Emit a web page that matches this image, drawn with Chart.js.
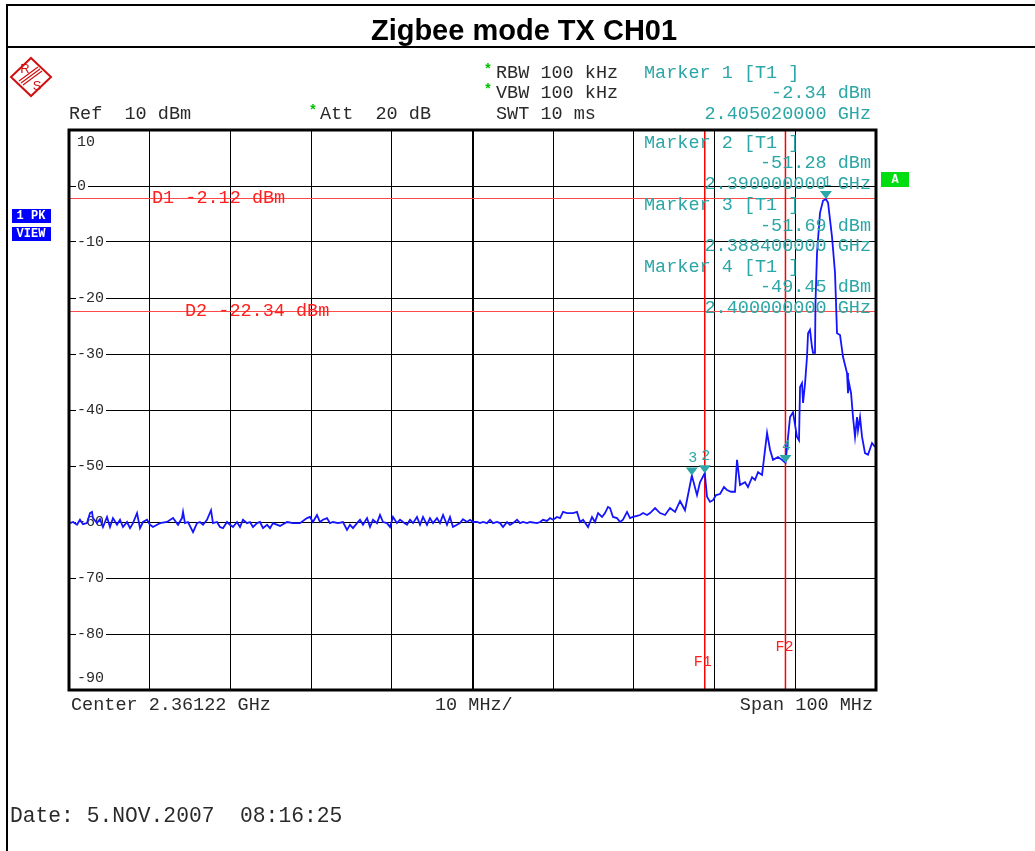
<!DOCTYPE html>
<html>
<head>
<meta charset="utf-8">
<title>Zigbee mode TX CH01</title>
<script src="https://cdn.jsdelivr.net/npm/chart.js@4.4.0/dist/chart.umd.min.js"></script>
<style>
  body { margin: 0; background: #fff; }
  canvas { display: block; }
</style>
</head>
<body>
<canvas id="spectrum" width="1035" height="851"></canvas>
<script>
// trace (MHz / dBm)
const freqMHz = [
  2311.34, 2311.72, 2312.21, 2312.58, 2312.95, 2313.45, 2313.82, 2314.07, 2314.19, 2314.69,
  2315.06, 2315.43, 2315.93, 2316.30, 2316.67, 2317.17, 2317.54, 2317.91, 2318.41, 2318.78,
  2319.15, 2319.65, 2320.02, 2320.39, 2320.89, 2321.26, 2321.63, 2322.13, 2322.50, 2323.36,
  2324.11, 2324.73, 2325.22, 2325.35, 2325.59, 2325.97, 2326.59, 2327.08, 2327.45, 2327.83,
  2328.32, 2328.82, 2329.06, 2329.56, 2329.93, 2330.30, 2330.80, 2331.17, 2331.54, 2332.04,
  2332.41, 2332.78, 2333.28, 2333.65, 2334.02, 2334.52, 2334.89, 2335.26, 2335.76, 2336.13,
  2336.50, 2337.37, 2338.24, 2338.98, 2339.84, 2340.71, 2341.08, 2341.45, 2341.95, 2342.32,
  2342.69, 2343.19, 2343.56, 2343.93, 2344.55, 2345.17, 2345.67, 2346.04, 2346.41, 2346.91,
  2347.28, 2347.65, 2348.15, 2348.52, 2348.89, 2349.39, 2349.76, 2350.13, 2350.63, 2351.00,
  2351.37, 2351.86, 2352.24, 2352.61, 2353.10, 2353.48, 2353.85, 2354.34, 2354.72, 2355.09,
  2355.58, 2355.95, 2356.33, 2356.82, 2357.19, 2357.57, 2358.06, 2358.43, 2358.80, 2359.30,
  2359.67, 2360.04, 2360.54, 2360.91, 2361.28, 2361.78, 2362.15, 2362.52, 2363.02, 2363.39,
  2363.76, 2364.26, 2364.63, 2365.00, 2365.50, 2365.87, 2366.24, 2366.74, 2367.11, 2367.48,
  2367.98, 2368.35, 2369.22, 2369.59, 2369.96, 2370.45, 2370.83, 2371.20, 2371.69, 2372.07,
  2372.44, 2372.93, 2373.31, 2373.68, 2374.17, 2374.55, 2374.92, 2375.54, 2376.03, 2376.40,
  2376.78, 2377.27, 2377.64, 2378.01, 2378.26, 2378.63, 2379.13, 2379.50, 2379.87, 2380.37,
  2380.74, 2381.11, 2381.61, 2381.98, 2382.35, 2382.85, 2383.22, 2383.84, 2384.46, 2385.08,
  2385.70, 2386.32, 2386.94, 2387.55, 2388.40, 2389.04, 2389.41, 2390.00, 2390.28, 2390.65,
  2391.02, 2391.40, 2391.89, 2392.39, 2392.76, 2393.25, 2393.75, 2394.00, 2394.37, 2394.99,
  2395.36, 2395.86, 2396.23, 2396.60, 2397.10, 2397.72, 2398.09, 2398.46, 2399.08, 2399.57,
  2400.00, 2400.57, 2400.94, 2401.43, 2401.68, 2401.81, 2402.05, 2402.18, 2402.43, 2402.67,
  2402.80, 2403.04, 2403.29, 2403.42, 2403.66, 2403.72, 2403.91, 2404.28, 2404.66, 2405.02,
  2405.28, 2405.77, 2406.14, 2406.39, 2406.76, 2407.13, 2407.63, 2407.75, 2407.88, 2408.13,
  2408.37, 2408.62, 2408.87, 2408.99, 2409.24, 2409.49, 2409.86, 2410.23, 2410.73, 2411.10
];
const levelDbm = [
  -60.2, -60.0, -60.5, -59.6, -60.4, -60.2, -58.4, -58.2, -59.3, -60.2,
  -59.5, -60.9, -59.1, -60.9, -59.3, -60.5, -59.6, -60.9, -60.0, -61.1,
  -60.2, -58.4, -61.1, -60.0, -59.6, -60.5, -60.9, -60.5, -60.2, -60.0,
  -59.3, -60.5, -59.3, -58.2, -60.2, -60.0, -61.8, -60.2, -60.0, -60.5,
  -59.6, -57.9, -60.2, -60.0, -60.9, -61.1, -60.0, -60.5, -60.9, -60.0,
  -60.9, -59.6, -60.2, -60.0, -60.9, -60.2, -60.0, -61.1, -60.5, -61.1,
  -60.2, -60.7, -60.0, -60.2, -60.2, -59.3, -59.1, -60.0, -58.75, -60.0,
  -59.6, -59.3, -60.2, -60.0, -60.2, -60.0, -61.4, -60.5, -61.1, -60.2,
  -59.6, -60.5, -59.3, -60.9, -59.6, -60.2, -58.75, -60.0, -60.2, -60.9,
  -59.1, -60.2, -59.6, -60.0, -60.5, -59.6, -60.2, -59.1, -60.5, -59.1,
  -60.5, -59.3, -60.2, -59.3, -60.2, -58.75, -60.5, -59.1, -60.9, -60.5,
  -60.2, -59.5, -60.0, -59.6, -60.0, -60.0, -60.2, -60.0, -60.2, -59.6,
  -60.2, -60.0, -60.2, -60.9, -60.0, -60.5, -60.2, -59.6, -60.2, -60.0,
  -60.2, -60.0, -60.2, -60.0, -59.6, -59.8, -59.3, -59.6, -59.1, -59.3,
  -58.2, -58.4, -58.4, -58.4, -58.2, -60.0, -59.6, -60.9, -59.1, -60.0,
  -58.4, -59.1, -58.4, -57.3, -57.5, -59.1, -59.3, -60.0, -59.6, -58.2,
  -59.3, -59.1, -58.9, -58.75, -58.4, -58.75, -58.4, -57.5, -58.4, -58.75,
  -57.5, -58.2, -56.25, -57.9, -51.69, -55.2, -52.9, -51.28, -55.5, -56.4,
  -56.1, -55.2, -55.0, -53.75, -54.3, -54.6, -54.6, -48.9, -53.4, -52.9,
  -53.75, -52.0, -52.5, -51.1, -51.6, -44.1, -47.1, -48.9, -48.4, -48.9,
  -49.45, -41.25, -40.4, -44.8, -45.4, -35.9, -35.2, -38.75, -35.2, -30.5,
  -26.3, -25.7, -28.75, -29.8, -29.8, -20.9, -12.0, -4.8, -2.6, -2.34,
  -3.0, -9.1, -15.5, -26.3, -26.6, -30.5, -33.4, -37.0, -35.2, -37.0,
  -41.25, -44.8, -41.25, -43.6, -41.25, -44.8, -47.7, -48.0, -45.9, -46.6
];

const markerNames = ['1', '2', '3', '4'];
const markerFreq = [2405.02, 2390.00, 2388.40, 2400.00];
const markerLevel = [-2.34, -51.28, -51.69, -49.45];
const markerFreqText = ['2.405020000 GHz', '2.390000000 GHz', '2.388400000 GHz', '2.400000000 GHz'];

const displayNames = ['D1', 'D2'];
const displayLevels = [-2.12, -22.34];
const freqLineNames = ['F1', 'F2'];
const freqLines = [2390.0, 2400.0];

const gridFreqs = [2311.22, 2321.22, 2331.22, 2341.22, 2351.22, 2361.22, 2371.22, 2381.22, 2391.22, 2401.22, 2411.22];
const levelTicks = [10, 0, -10, -20, -30, -40, -50, -60, -70, -80, -90];

const MONO = '"Liberation Mono", "DejaVu Sans Mono", monospace';
const TEAL = '#2ca6a6';
const RED = '#ff2020';
const INK = '#2a2a2a';

function text(ctx, s, x, y, color, align, font) {
    ctx.font = font || ('18.5px ' + MONO);
    ctx.fillStyle = color;
    ctx.textAlign = align || 'left';
    ctx.textBaseline = 'middle';
    ctx.fillText(s, x, y);
}

function fmt(v) {
    return (v < 0 ? '-' : '') + Math.abs(v).toFixed(2);
}

const analyzerPlugin = {
    id: 'analyzer',
    beforeDatasetsDraw(chart) {
        const ctx = chart.ctx;
        const area = chart.chartArea;
        const xs = chart.scales.x;
        const ys = chart.scales.y;
        ctx.save();

        // level labels with white backing, inside the grid
        ctx.font = '15px ' + MONO;
        levelTicks.forEach((v, i) => {
            let y = ys.getPixelForValue(v);
            if (i === 0) y += 12;
            if (i === levelTicks.length - 1) y -= 12;
            const s = String(v);
            const w = ctx.measureText(s).width;
            ctx.fillStyle = '#fff';
            ctx.fillRect(area.left + 7, y - 7, w + 3, 14);
            text(ctx, s, area.left + 8, y, INK, 'left', '15px ' + MONO);
        });

        // display lines
        ctx.strokeStyle = '#ff4a4a';
        ctx.lineWidth = 1;
        displayLevels.forEach(v => {
            const y = Math.round(ys.getPixelForValue(v)) + 0.5;
            ctx.beginPath();
            ctx.moveTo(area.left, y);
            ctx.lineTo(area.right, y);
            ctx.stroke();
        });

        // frequency lines
        ctx.strokeStyle = '#ff0000';
        ctx.lineWidth = 1.5;
        freqLines.forEach(f => {
            const x = xs.getPixelForValue(f);
            ctx.beginPath();
            ctx.moveTo(x, area.top);
            ctx.lineTo(x, area.bottom);
            ctx.stroke();
        });
        ctx.restore();
    },
    afterDraw(chart) {
        const ctx = chart.ctx;
        const area = chart.chartArea;
        const xs = chart.scales.x;
        const ys = chart.scales.y;
        ctx.save();

        // page frame and title band
        ctx.strokeStyle = '#000';
        ctx.lineWidth = 2;
        ctx.beginPath();
        ctx.moveTo(7, 851); ctx.lineTo(7, 5); ctx.lineTo(1035, 5);
        ctx.moveTo(7, 47); ctx.lineTo(1035, 47);
        ctx.stroke();
        text(ctx, 'Zigbee mode TX CH01', 524, 32, '#000', 'center', 'bold 29px "Liberation Sans", Arial, sans-serif');

        // plot frame
        ctx.lineWidth = 3;
        ctx.strokeRect(area.left, area.top, area.right - area.left, area.bottom - area.top);

        // R&S logo
        ctx.strokeStyle = '#d01010';
        ctx.lineWidth = 2;
        ctx.beginPath();
        ctx.moveTo(31, 58); ctx.lineTo(51, 77); ctx.lineTo(31, 96); ctx.lineTo(11, 77); ctx.closePath();
        ctx.stroke();
        ctx.lineWidth = 1.2;
        ctx.beginPath();
        for (let k = -2; k <= 2; k += 2) {
            ctx.moveTo(21 + k, 83 + k); ctx.lineTo(40 + k, 69 + k);
        }
        ctx.stroke();
        text(ctx, 'R', 25, 69, '#d01010', 'center', '13px "Liberation Sans", sans-serif');
        text(ctx, 'S', 37, 86, '#d01010', 'center', '13px "Liberation Sans", sans-serif');

        // header settings
        text(ctx, 'Ref  10 dBm', 69, 114, INK);
        text(ctx, '*', 313, 111, '#00c000', 'center', 'bold 14px ' + MONO);
        text(ctx, 'Att  20 dB', 320, 114, INK);
        text(ctx, '*', 488, 70, '#00c000', 'center', 'bold 14px ' + MONO);
        text(ctx, 'RBW 100 kHz', 496, 73, INK);
        text(ctx, '*', 488, 90, '#00c000', 'center', 'bold 14px ' + MONO);
        text(ctx, 'VBW 100 kHz', 496, 93, INK);
        text(ctx, 'SWT 10 ms', 496, 114, INK);

        // marker readouts
        const rowY = [[73, 93, 114], [143, 163, 184], [205, 226, 246], [267, 287, 308]];
        markerNames.forEach((m, i) => {
            text(ctx, 'Marker ' + m + ' [T1 ]', 644, rowY[i][0], TEAL);
            text(ctx, fmt(markerLevel[i]) + ' dBm', 871, rowY[i][1], TEAL, 'right');
            text(ctx, markerFreqText[i], 871, rowY[i][2], TEAL, 'right');
        });

        // markers on the trace
        markerNames.forEach((m, i) => {
            const x = xs.getPixelForValue(markerFreq[i]);
            const y = ys.getPixelForValue(markerLevel[i]);
            ctx.fillStyle = TEAL;
            ctx.beginPath();
            ctx.moveTo(x - 6, y - 8); ctx.lineTo(x + 6, y - 8); ctx.lineTo(x, y);
            ctx.closePath();
            ctx.fill();
            text(ctx, m, x + 1, y - 17, TEAL, 'center', '15px ' + MONO);
        });

        // display line labels
        text(ctx, displayNames[0] + ' ' + fmt(displayLevels[0]) + ' dBm', 152, ys.getPixelForValue(displayLevels[0]), RED);
        text(ctx, displayNames[1] + ' ' + fmt(displayLevels[1]) + ' dBm', 185, ys.getPixelForValue(displayLevels[1]), RED);
        text(ctx, freqLineNames[0], xs.getPixelForValue(freqLines[0]) - 2, 662, RED, 'center', '15px ' + MONO);
        text(ctx, freqLineNames[1], xs.getPixelForValue(freqLines[1]) - 1, 647, RED, 'center', '15px ' + MONO);

        // side badges
        ctx.fillStyle = '#0000ff';
        ctx.fillRect(12, 209, 39, 14);
        ctx.fillRect(12, 227, 39, 14);
        text(ctx, '1 PK', 31, 216, '#fff', 'center', 'bold 12px ' + MONO);
        text(ctx, 'VIEW', 31, 234, '#fff', 'center', 'bold 12px ' + MONO);
        ctx.fillStyle = '#00dd10';
        ctx.fillRect(881, 172, 28, 15);
        text(ctx, 'A', 895, 180, '#fff', 'center', 'bold 12px ' + MONO);

        // footer
        text(ctx, 'Center 2.36122 GHz', 71, 705, INK);
        text(ctx, '10 MHz/', 435, 705, INK);
        text(ctx, 'Span 100 MHz', 873, 705, INK, 'right');
        text(ctx, 'Date: 5.NOV.2007  08:16:25', 10, 816, INK, 'left', '21.3px ' + MONO);
        ctx.restore();
    }
};

const ctx = document.getElementById('spectrum').getContext('2d');
const spectrumChart = new Chart(ctx, {
    type: 'line',
    data: {
        datasets: [{
            label: 'Trace 1',
            data: freqMHz.map((f, i) => ({ x: f, y: levelDbm[i] })),
            borderColor: '#1414ff',
            borderWidth: 1.8,
            pointRadius: 0,
            tension: 0,
            fill: false
        }]
    },
    options: {
        responsive: false,
        animation: false,
        devicePixelRatio: 1,
        layout: { padding: { left: 69, top: 130, right: 159, bottom: 161 } },
        plugins: {
            legend: { display: false },
            tooltip: { enabled: false }
        },
        scales: {
            x: {
                type: 'linear',
                min: gridFreqs[0],
                max: gridFreqs[gridFreqs.length - 1],
                afterBuildTicks: scale => { scale.ticks = gridFreqs.map(v => ({ value: v })); },
                afterFit: scale => { scale.height = 0; },
                ticks: { display: false },
                border: { display: false },
                grid: {
                    color: '#000',
                    drawTicks: false,
                    lineWidth: c => (c.tick && c.tick.value === 2361.22 ? 2 : 1)
                }
            },
            y: {
                type: 'linear',
                min: -90,
                max: 10,
                afterBuildTicks: scale => { scale.ticks = levelTicks.map(v => ({ value: v })); },
                afterFit: scale => { scale.width = 0; },
                ticks: { display: false },
                border: { display: false },
                grid: { color: '#000', drawTicks: false, lineWidth: 1 }
            }
        }
    },
    plugins: [analyzerPlugin]
});
</script>
</body>
</html>
